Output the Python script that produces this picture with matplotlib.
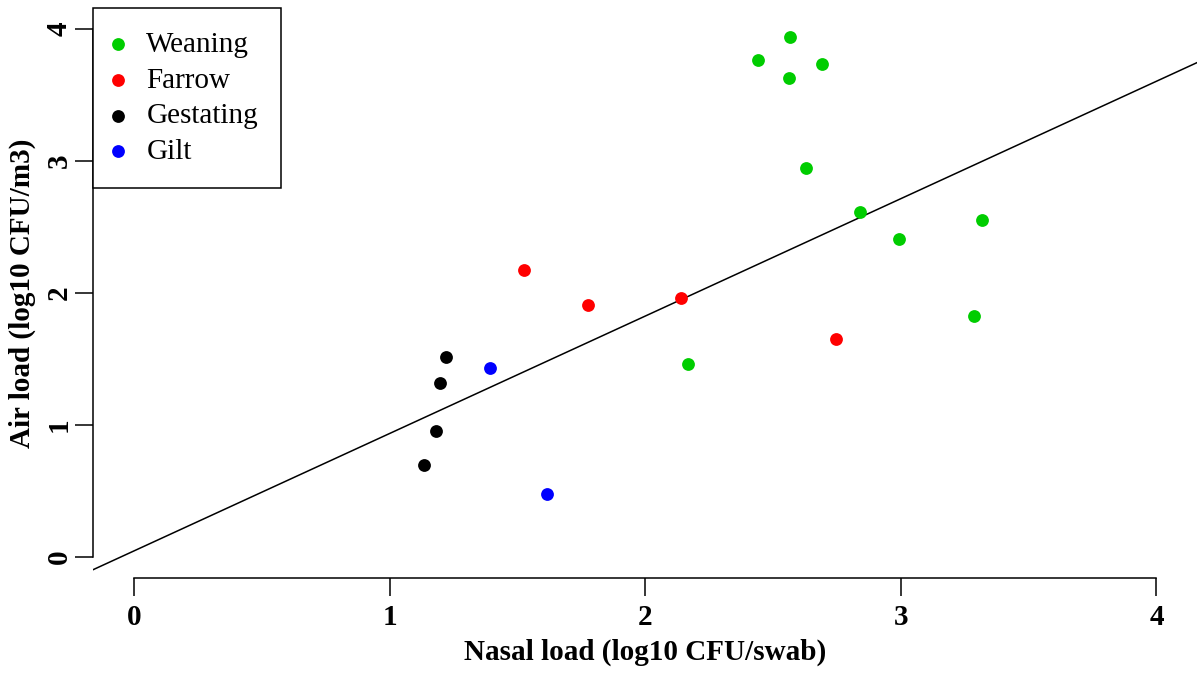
import matplotlib
matplotlib.use("Agg")
import matplotlib.pyplot as plt

plt.rcParams['font.family'] = ['Liberation Serif', 'DejaVu Serif']

# data
groups = ['Weaning', 'Farrow', 'Gestating', 'Gilt']
colors = ['#00CD00', '#FF0000', '#000000', '#0000FF']

weaning_x = [2.567, 2.443, 2.561, 2.691, 2.629, 2.842, 2.993, 3.317, 3.287, 2.167]
weaning_y = [3.937, 3.763, 3.626, 3.732, 2.949, 2.611, 2.407, 2.551, 1.826, 1.462]
farrow_x = [1.525, 1.776, 2.141, 2.747]
farrow_y = [2.172, 1.909, 1.960, 1.652]
gest_x = [1.222, 1.196, 1.181, 1.134]
gest_y = [1.517, 1.321, 0.952, 0.697]
gilt_x = [1.392, 1.616]
gilt_y = [1.432, 0.475]

# fitted line y = a + b*x
a_int = 0.045
b_slope = 0.890

xs = [weaning_x, farrow_x, gest_x, gilt_x]
ys = [weaning_y, farrow_y, gest_y, gilt_y]

fig = plt.figure(figsize=(11.98, 6.75), dpi=100)
ax = fig.add_axes([93/1198, 97/675, 1104.4/1198, 570/675])

for gx, gy, c, lab in zip(xs, ys, colors, groups):
    ax.scatter(gx, gy, s=85, color=c, label=lab, zorder=3, linewidths=0)

ax.axline((0, a_int), slope=b_slope, color='black', lw=1.1, zorder=2)

ax.set_xlim(-0.16, 4.16)
ax.set_ylim(-0.16, 4.16)
ax.set_xticks([0, 1, 2, 3, 4])
ax.set_yticks([0, 1, 2, 3, 4])

for s in ['top', 'right']:
    ax.spines[s].set_visible(False)
ax.spines['left'].set_bounds(0, 4)
ax.spines['bottom'].set_bounds(0, 4)
for s in ['left', 'bottom']:
    ax.spines[s].set_linewidth(1.1)

ax.tick_params(axis='both', direction='out', length=13, width=1.1,
               labelsize=21)
ax.tick_params(axis='x', pad=6)
ax.tick_params(axis='y', pad=1.5)
for t in ax.get_xticklabels():
    t.set_fontweight('bold')
for t in ax.get_yticklabels():
    t.set_fontweight('bold')
    t.set_rotation(90)
    t.set_va('center')

ax.set_xlabel('Nasal load (log10 CFU/swab)', fontsize=21, fontweight='bold')
ax.set_ylabel('Air load (log10 CFU/m3)', fontsize=21, fontweight='bold')
ax.xaxis.label.set_va('center')
ax.yaxis.label.set_va('center')
ax.xaxis.set_label_coords(0.5, -(652 - 578) / 570)
ax.yaxis.set_label_coords((22 - 93) / 1104.4, 0.5)

leg = ax.legend(loc='upper left', bbox_to_anchor=(0, 1), borderaxespad=0,
                fancybox=False, edgecolor='black', framealpha=1,
                fontsize=21, scatterpoints=1, handlelength=0.1,
                handletextpad=0.93, borderpad=0.8, labelspacing=0.32)
leg.get_frame().set_linewidth(1.1)

fig.savefig('out.png', dpi=100)
